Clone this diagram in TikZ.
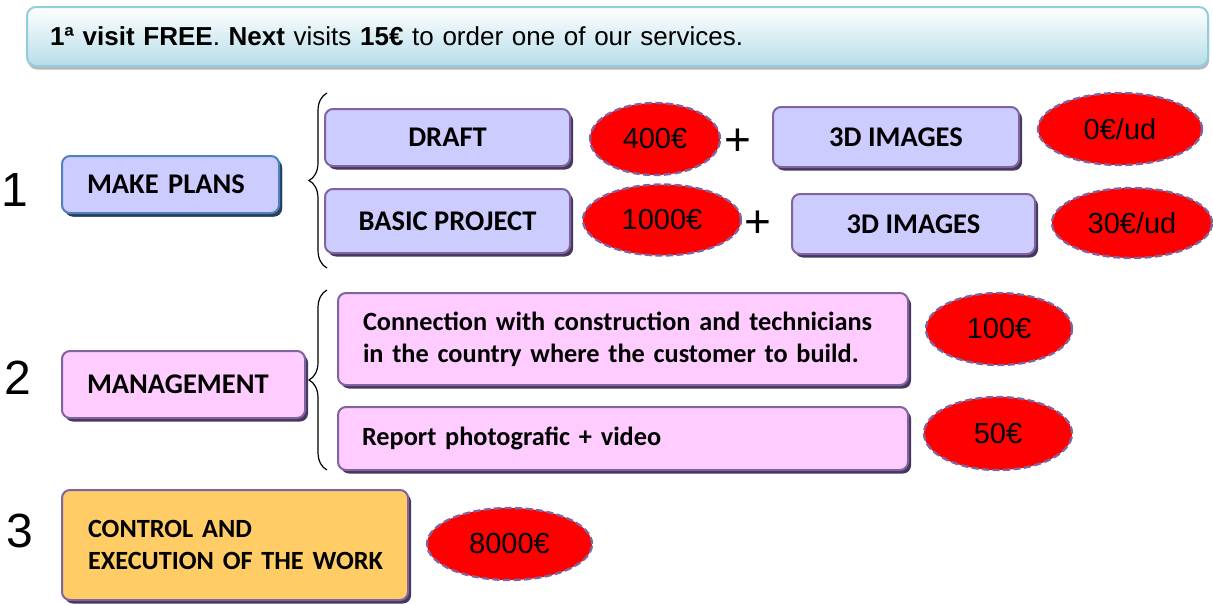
\documentclass[tikz,border=0pt]{standalone}
\usepackage{fontspec}
\setmainfont{Carlito}
\newfontfamily\arialf{Liberation Sans}
\usetikzlibrary{shapes.geometric,shadows,decorations.pathreplacing}
\definecolor{lilac}{HTML}{CCCCFF}
\definecolor{pinkbox}{HTML}{FFCCFF}
\definecolor{orangebox}{HTML}{FFCC66}
\definecolor{boxpurple}{HTML}{8064A2}
\definecolor{shadowpurple}{HTML}{46385C}
\definecolor{boxblue}{HTML}{4F81BD}
\definecolor{shadownavy}{HTML}{243F60}
\definecolor{bannerline}{HTML}{93CDDD}
\definecolor{bannerfill}{HTML}{B6DDE8}
\definecolor{pricered}{HTML}{FF0000}
\tikzset{
  box/.style={rounded corners=8pt, line width=2pt, draw=boxpurple, inner sep=0pt,
    font=\bfseries\fontsize{28.5}{32}\selectfont,
    drop shadow={shadow xshift=3pt, shadow yshift=-3.5pt, fill=shadowpurple, opacity=1}},
  smalltext/.style={font=\bfseries\fontsize{26.3}{32}\selectfont},
  price/.style={ellipse, fill=pricered, draw=boxpurple, line width=2.3pt,
    dash pattern=on 7pt off 3.5pt, inner sep=0pt, font=\arialf\fontsize{29}{30}\selectfont},
  numlabel/.style={font=\arialf\fontsize{48}{50}\selectfont, inner sep=0pt},
  plussign/.style={font=\arialf\fontsize{46}{48}\selectfont, inner sep=0pt},
  bracestyle/.style={decorate, decoration={brace, amplitude=18pt}, line width=1.2pt},
}
\begin{document}
\begin{tikzpicture}[x=1pt, y=-1pt]
\useasboundingbox (0,0) rectangle (1213,605);

% banner
\node[rounded corners=9pt, line width=2pt, draw=bannerline, top color=white, bottom color=bannerfill,
  minimum width=1181pt, minimum height=59pt, text width=1135pt, inner xsep=23pt, inner ysep=0pt, align=left,
  font=\arialf\fontsize{26}{30}\selectfont,
  drop shadow={shadow xshift=1pt, shadow yshift=-3.5pt, fill=gray!70, opacity=0.8}]
  (banner) at (617.5,36.5) {\textbf{1ª visit FREE}. \textbf{Next} visits \textbf{15€} to order one of our services.};

% numbers
\node[numlabel] (n1) at (15,190) {1};
\node[numlabel] (n2) at (18,378) {2};
\node[numlabel] (n3) at (20,531) {3};

% row 1
\node[box, draw=boxblue, fill=lilac, minimum width=217pt, minimum height=57pt, text width=167pt, inner xsep=25pt, align=left,
  drop shadow={shadow xshift=3pt, shadow yshift=-3.5pt, fill=shadownavy, opacity=1}]
  (plans) at (170.5,184.5) {MAKE PLANS};
\node[box, fill=lilac, minimum width=245pt, minimum height=57pt] (draft) at (447.5,137.5) {DRAFT};
\node[box, fill=lilac, minimum width=245pt, minimum height=64pt] (basic) at (447.5,221) {BASIC PROJECT};
\node[box, fill=lilac, minimum width=246pt, minimum height=60pt] (img1) at (896,137) {3D IMAGES};
\node[box, fill=lilac, minimum width=243pt, minimum height=60pt] (img2) at (913.5,224) {3D IMAGES};

\node[price, minimum width=130pt, minimum height=72pt] (p400) at (655,139) {400€};
\node[price, minimum width=158pt, minimum height=71pt] (p1000) at (662,220) {1000€};
\node[price, minimum width=164pt, minimum height=72pt] (p0) at (1120,129) {0€/ud};
\node[price, minimum width=160pt, minimum height=70pt] (p30) at (1132,223) {30€/ud};

\node[plussign] (plus1) at (738,142) {+};
\node[plussign] (plus2) at (758,224) {+};

\coordinate (b1top) at (327,93);
\coordinate (b1bot) at (327,268);
\draw[bracestyle] (b1bot) -- (b1top);

% row 2
\node[box, fill=pinkbox, minimum width=243pt, minimum height=67pt, text width=193pt, inner xsep=25pt, align=left]
  (mgmt) at (183.5,384.5) {MANAGEMENT};
\node[box, smalltext, fill=pinkbox, minimum width=570pt, minimum height=92pt, text width=520pt, inner xsep=25pt, align=left]
  (conn) at (623,339) {Connection with construction and technicians\\in the country where the customer to build.};
\node[box, smalltext, fill=pinkbox, minimum width=570pt, minimum height=63pt, text width=522pt, inner xsep=24pt, align=left]
  (report) at (623,438.5) {Report photografic + video};
\node[price, minimum width=146pt, minimum height=72pt] (p100) at (999,329) {100€};
\node[price, minimum width=148pt, minimum height=73pt] (p50) at (998,433.5) {50€};

\coordinate (b2top) at (327,290);
\coordinate (b2bot) at (327,470);
\draw[bracestyle] (b2bot) -- (b2top);

% row 3
\node[box, smalltext, fill=orangebox, minimum width=346pt, minimum height=110pt, text width=294pt, inner xsep=26pt, align=left]
  (control) at (235,545) {\mbox{CONTROL AND}\\\mbox{EXECUTION OF THE WORK}\\[6pt]};
\node[price, minimum width=165pt, minimum height=72pt] (p8000) at (509.5,544) {8000€};
\end{tikzpicture}
\end{document}
